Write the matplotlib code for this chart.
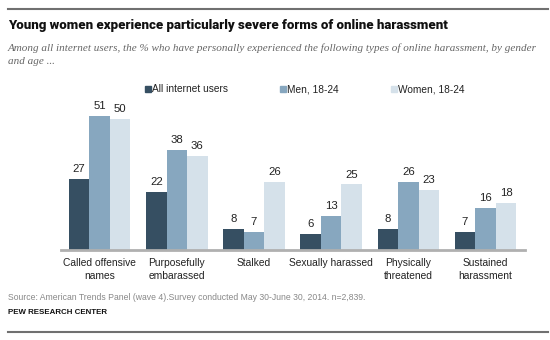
import numpy as np
import matplotlib.pyplot as plt
from matplotlib.patches import Rectangle
from matplotlib.lines import Line2D

categories = ['Called offensive\nnames', 'Purposefully\nembarassed', 'Stalked',
              'Sexually harassed', 'Physically\nthreatened', 'Sustained\nharassment']
all_users = [27, 22, 8, 6, 8, 7]
men_18_24 = [51, 38, 7, 13, 26, 16]
women_18_24 = [50, 36, 26, 25, 23, 18]
series_names = ['All internet users', 'Men, 18-24', 'Women, 18-24']
colors = ['#364f62', '#87a7bf', '#d5e1ea']

W, H = 550, 340
fig = plt.figure(figsize=(W / 100, H / 100), dpi=100)


def fx(px):
    return px / W


def fy(py):
    return 1 - py / H


sans = 'Liberation Sans'

# axes placed in pixel coords
ax_left, ax_right, ax_top, ax_bottom = 61, 525, 100, 250
ax = fig.add_axes([fx(ax_left), fy(ax_bottom), fx(ax_right - ax_left), (ax_bottom - ax_top) / H])

x = np.arange(len(categories))
w = 0.266
for i, (vals, c) in enumerate(zip([all_users, men_18_24, women_18_24], colors)):
    xs = x + (i - 1) * w
    ax.bar(xs, vals, width=w, color=c, zorder=2)
    for xi, v in zip(xs, vals):
        ax.annotate(str(v), (xi, v), xytext=(0, 3.5), textcoords='offset points',
                    ha='center', va='bottom', fontsize=8.2, family=sans, color='#222222')

ax.set_xlim(-0.5, 5.51)
ax.set_ylim(0, 57.2)
ax.set_yticks([])
ax.set_xticks(x)
ax.set_xticklabels(categories, fontsize=7.4, family=sans, color='#222222', linespacing=1.35)
ax.tick_params(axis='x', length=0, pad=6)
for s in ['top', 'right', 'left']:
    ax.spines[s].set_visible(False)
ax.spines['bottom'].set_color('#b0b0b0')
ax.spines['bottom'].set_linewidth(2)
ax.patch.set_alpha(0)

# legend
leg_x = [145, 280, 391]
for lx, name, c in zip(leg_x, series_names, colors):
    fig.add_artist(Rectangle((fx(lx), fy(92)), 6 / W, 6 / H, color=c, transform=fig.transFigure))
    fig.text(fx(lx + 7), fy(89), name, fontsize=7.3, family=sans, color='#222222', va='center')

# title, sized to fill the same width as the reference
title = fig.text(fx(8), fy(25), 'Young women experience particularly severe forms of online harassment',
                 fontsize=10, fontweight='black', family=['Roboto', 'Liberation Sans'],
                 va='center', color='#111111')
r = fig.canvas.get_renderer()
tw = title.get_window_extent(renderer=r).width
title.set_fontsize(10 * 440 / tw)

fig.text(fx(8), fy(48), 'Among all internet users, the % who have personally experienced the following types of online harassment, by gender',
         fontsize=8.0, style='italic', family='Liberation Serif', va='center', color='#666666')
fig.text(fx(8), fy(61), 'and age ...',
         fontsize=8.0, style='italic', family='Liberation Serif', va='center', color='#666666')

# footer
fig.text(fx(8), fy(297), 'Source: American Trends Panel (wave 4).Survey conducted May 30-June 30, 2014. n=2,839.',
         fontsize=6.2, family=sans, va='center', color='#888888')
fig.text(fx(8), fy(313), 'PEW RESEARCH CENTER', fontsize=5.7, fontweight='bold',
         family=sans, va='center', color='#111111')

# rules
fig.add_artist(Line2D([fx(8), fx(548)], [fy(9), fy(9)], color='#707070', lw=1.5, transform=fig.transFigure))
fig.add_artist(Line2D([fx(8), fx(548)], [fy(332), fy(332)], color='#707070', lw=1.5, transform=fig.transFigure))

fig.savefig('out.png', dpi=100)
